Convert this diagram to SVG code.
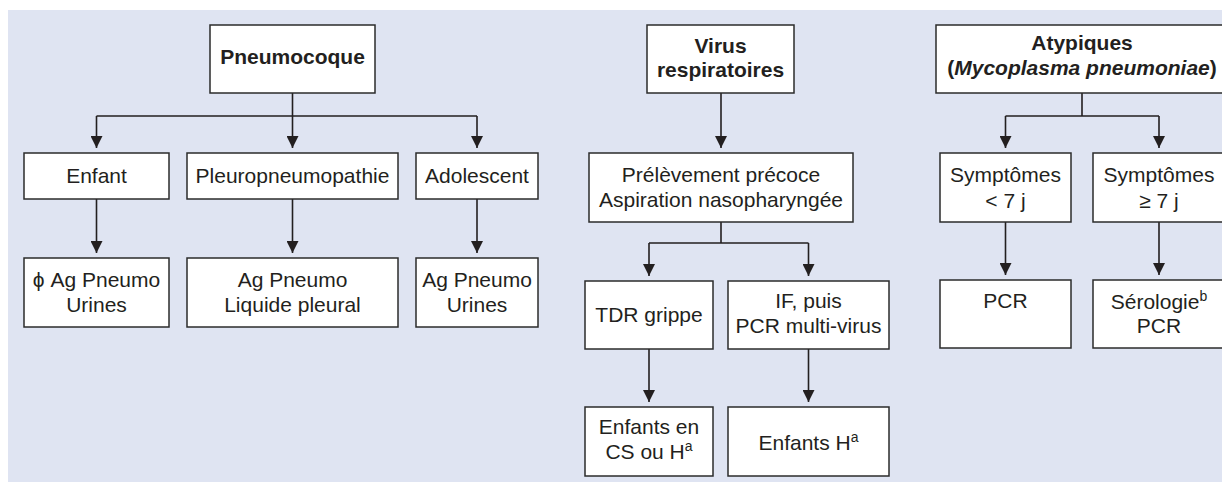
<svg xmlns="http://www.w3.org/2000/svg" width="1222" height="482" viewBox="0 0 1222 482">
<style>
.box{fill:#fff;stroke:#2b2b2b;stroke-width:1.5}
.t{font-family:"Liberation Sans",Arial,sans-serif;font-size:21px;fill:#231f20;text-anchor:middle}
.b{font-weight:bold}
.c{fill:none;stroke:#231f20;stroke-width:1.6}
.sup{font-size:14px}
</style>
<defs>
<marker id="ah" markerUnits="userSpaceOnUse" viewBox="0 0 12 12" refX="12" refY="6" markerWidth="12" markerHeight="12" orient="auto">
<path d="M0,0 L12,6 L0,12 z" fill="#231f20"/>
</marker>
</defs>
<rect x="8" y="10" width="1214" height="472" fill="#dfe4f2"/>
<g id="connectors">
<path class="c" d="M292.5,93 V116 M96.5,116 H477"/>
<path class="c" d="M96.5,116 V148" marker-end="url(#ah)"/>
<path class="c" d="M292.5,116 V148" marker-end="url(#ah)"/>
<path class="c" d="M477,116 V148" marker-end="url(#ah)"/>
<path class="c" d="M96.5,199 V253" marker-end="url(#ah)"/>
<path class="c" d="M292.5,199 V253" marker-end="url(#ah)"/>
<path class="c" d="M477,199 V253" marker-end="url(#ah)"/>
<path class="c" d="M721,93 V148" marker-end="url(#ah)"/>
<path class="c" d="M721,222 V243 M649,243 H808.5"/>
<path class="c" d="M649,243 V276" marker-end="url(#ah)"/>
<path class="c" d="M808.5,243 V276" marker-end="url(#ah)"/>
<path class="c" d="M649,349 V402" marker-end="url(#ah)"/>
<path class="c" d="M808.5,349 V402" marker-end="url(#ah)"/>
<path class="c" d="M1082,93 V116 M1005.5,116 H1159"/>
<path class="c" d="M1005.5,116 V148" marker-end="url(#ah)"/>
<path class="c" d="M1159,116 V148" marker-end="url(#ah)"/>
<path class="c" d="M1005.5,222 V275" marker-end="url(#ah)"/>
<path class="c" d="M1159,222 V275" marker-end="url(#ah)"/>
</g>
<g id="pneumocoque"><rect class="box" x="210" y="25" width="165" height="68"/><text class="t b" x="292.5" y="64">Pneumocoque</text></g>
<g id="enfant"><rect class="box" x="24" y="153" width="145" height="46"/><text class="t" x="96.5" y="183">Enfant</text></g>
<g id="pleuro"><rect class="box" x="187" y="153" width="211" height="46"/><text class="t" x="292.5" y="183">Pleuropneumopathie</text></g>
<g id="adolescent"><rect class="box" x="416" y="153" width="122" height="46"/><text class="t" x="477" y="183">Adolescent</text></g>
<g id="enfant-test"><rect class="box" x="24" y="258" width="145" height="69"/><text class="t" x="96.5" y="287">ϕ Ag Pneumo</text><text class="t" x="96.5" y="312">Urines</text></g>
<g id="pleuro-test"><rect class="box" x="187" y="258" width="211" height="69"/><text class="t" x="292.5" y="287">Ag Pneumo</text><text class="t" x="292.5" y="312">Liquide pleural</text></g>
<g id="ado-test"><rect class="box" x="416" y="258" width="122" height="69"/><text class="t" x="477" y="287">Ag Pneumo</text><text class="t" x="477" y="312">Urines</text></g>
<g id="virus"><rect class="box" x="647" y="25" width="147" height="68"/><text class="t b" x="720.5" y="53">Virus</text><text class="t b" x="720.5" y="77">respiratoires</text></g>
<g id="prelevement"><rect class="box" x="589" y="153" width="264" height="69"/><text class="t" x="721" y="182">Prélèvement précoce</text><text class="t" x="721" y="207">Aspiration nasopharyngée</text></g>
<g id="tdr"><rect class="box" x="585" y="281" width="128" height="68"/><text class="t" x="649" y="322">TDR grippe</text></g>
<g id="if-pcr"><rect class="box" x="728" y="281" width="161" height="68"/><text class="t" x="808.5" y="308">IF, puis</text><text class="t" x="808.5" y="333">PCR multi-virus</text></g>
<g id="enfants-cs"><rect class="box" x="585" y="407" width="128" height="69"/><text class="t" x="649" y="434">Enfants en</text><text class="t" x="649" y="459">CS ou H<tspan class="sup" dy="-8">a</tspan></text></g>
<g id="enfants-h"><rect class="box" x="728" y="407" width="161" height="69"/><text class="t" x="808.5" y="450">Enfants H<tspan class="sup" dy="-8">a</tspan></text></g>
<g id="atypiques"><rect class="box" x="936" y="25" width="292" height="68"/><text class="t b" x="1082" y="50">Atypiques</text><text class="t b" x="1082" y="75">(<tspan font-style="italic">Mycoplasma pneumoniae</tspan>)</text></g>
<g id="sympt-lt7"><rect class="box" x="940" y="153" width="131" height="69"/><text class="t" x="1005.5" y="182">Symptômes</text><text class="t" x="1005.5" y="208">&lt; 7 j</text></g>
<g id="sympt-ge7"><rect class="box" x="1093" y="153" width="132" height="69"/><text class="t" x="1159" y="182">Symptômes</text><text class="t" x="1159" y="208">≥ 7 j</text></g>
<g id="pcr"><rect class="box" x="940" y="280" width="131" height="68"/><text class="t" x="1005.5" y="308">PCR</text></g>
<g id="serologie"><rect class="box" x="1093" y="280" width="132" height="68"/><text class="t" x="1159" y="309">Sérologie<tspan class="sup" dy="-8">b</tspan></text><text class="t" x="1159" y="333">PCR</text></g>
</svg>
